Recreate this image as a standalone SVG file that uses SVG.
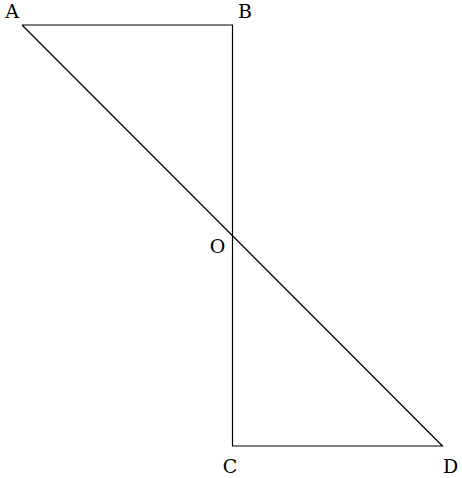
<svg xmlns="http://www.w3.org/2000/svg" width="462" height="478" viewBox="0 0 462 478">
<style>
.ln{fill:none;stroke:#000;stroke-width:1.2;stroke-linejoin:miter}
.lb{font-family:"DejaVu Serif","Liberation Serif",serif;font-size:19px;fill:#000;text-anchor:middle}
</style>
<rect width="462" height="478" fill="#fff"/>
<g id="connectors">
<polyline class="ln" points="22,25 232.5,25 232.5,446 442.5,446 22,25"/>
</g>
<g id="A"><text class="lb" x="12" y="18">A</text></g>
<g id="B"><text class="lb" x="245" y="18">B</text></g>
<g id="O"><text class="lb" x="217.5" y="253">O</text></g>
<g id="C"><text class="lb" x="230" y="473">C</text></g>
<g id="D"><text class="lb" x="450.5" y="473">D</text></g>
</svg>
